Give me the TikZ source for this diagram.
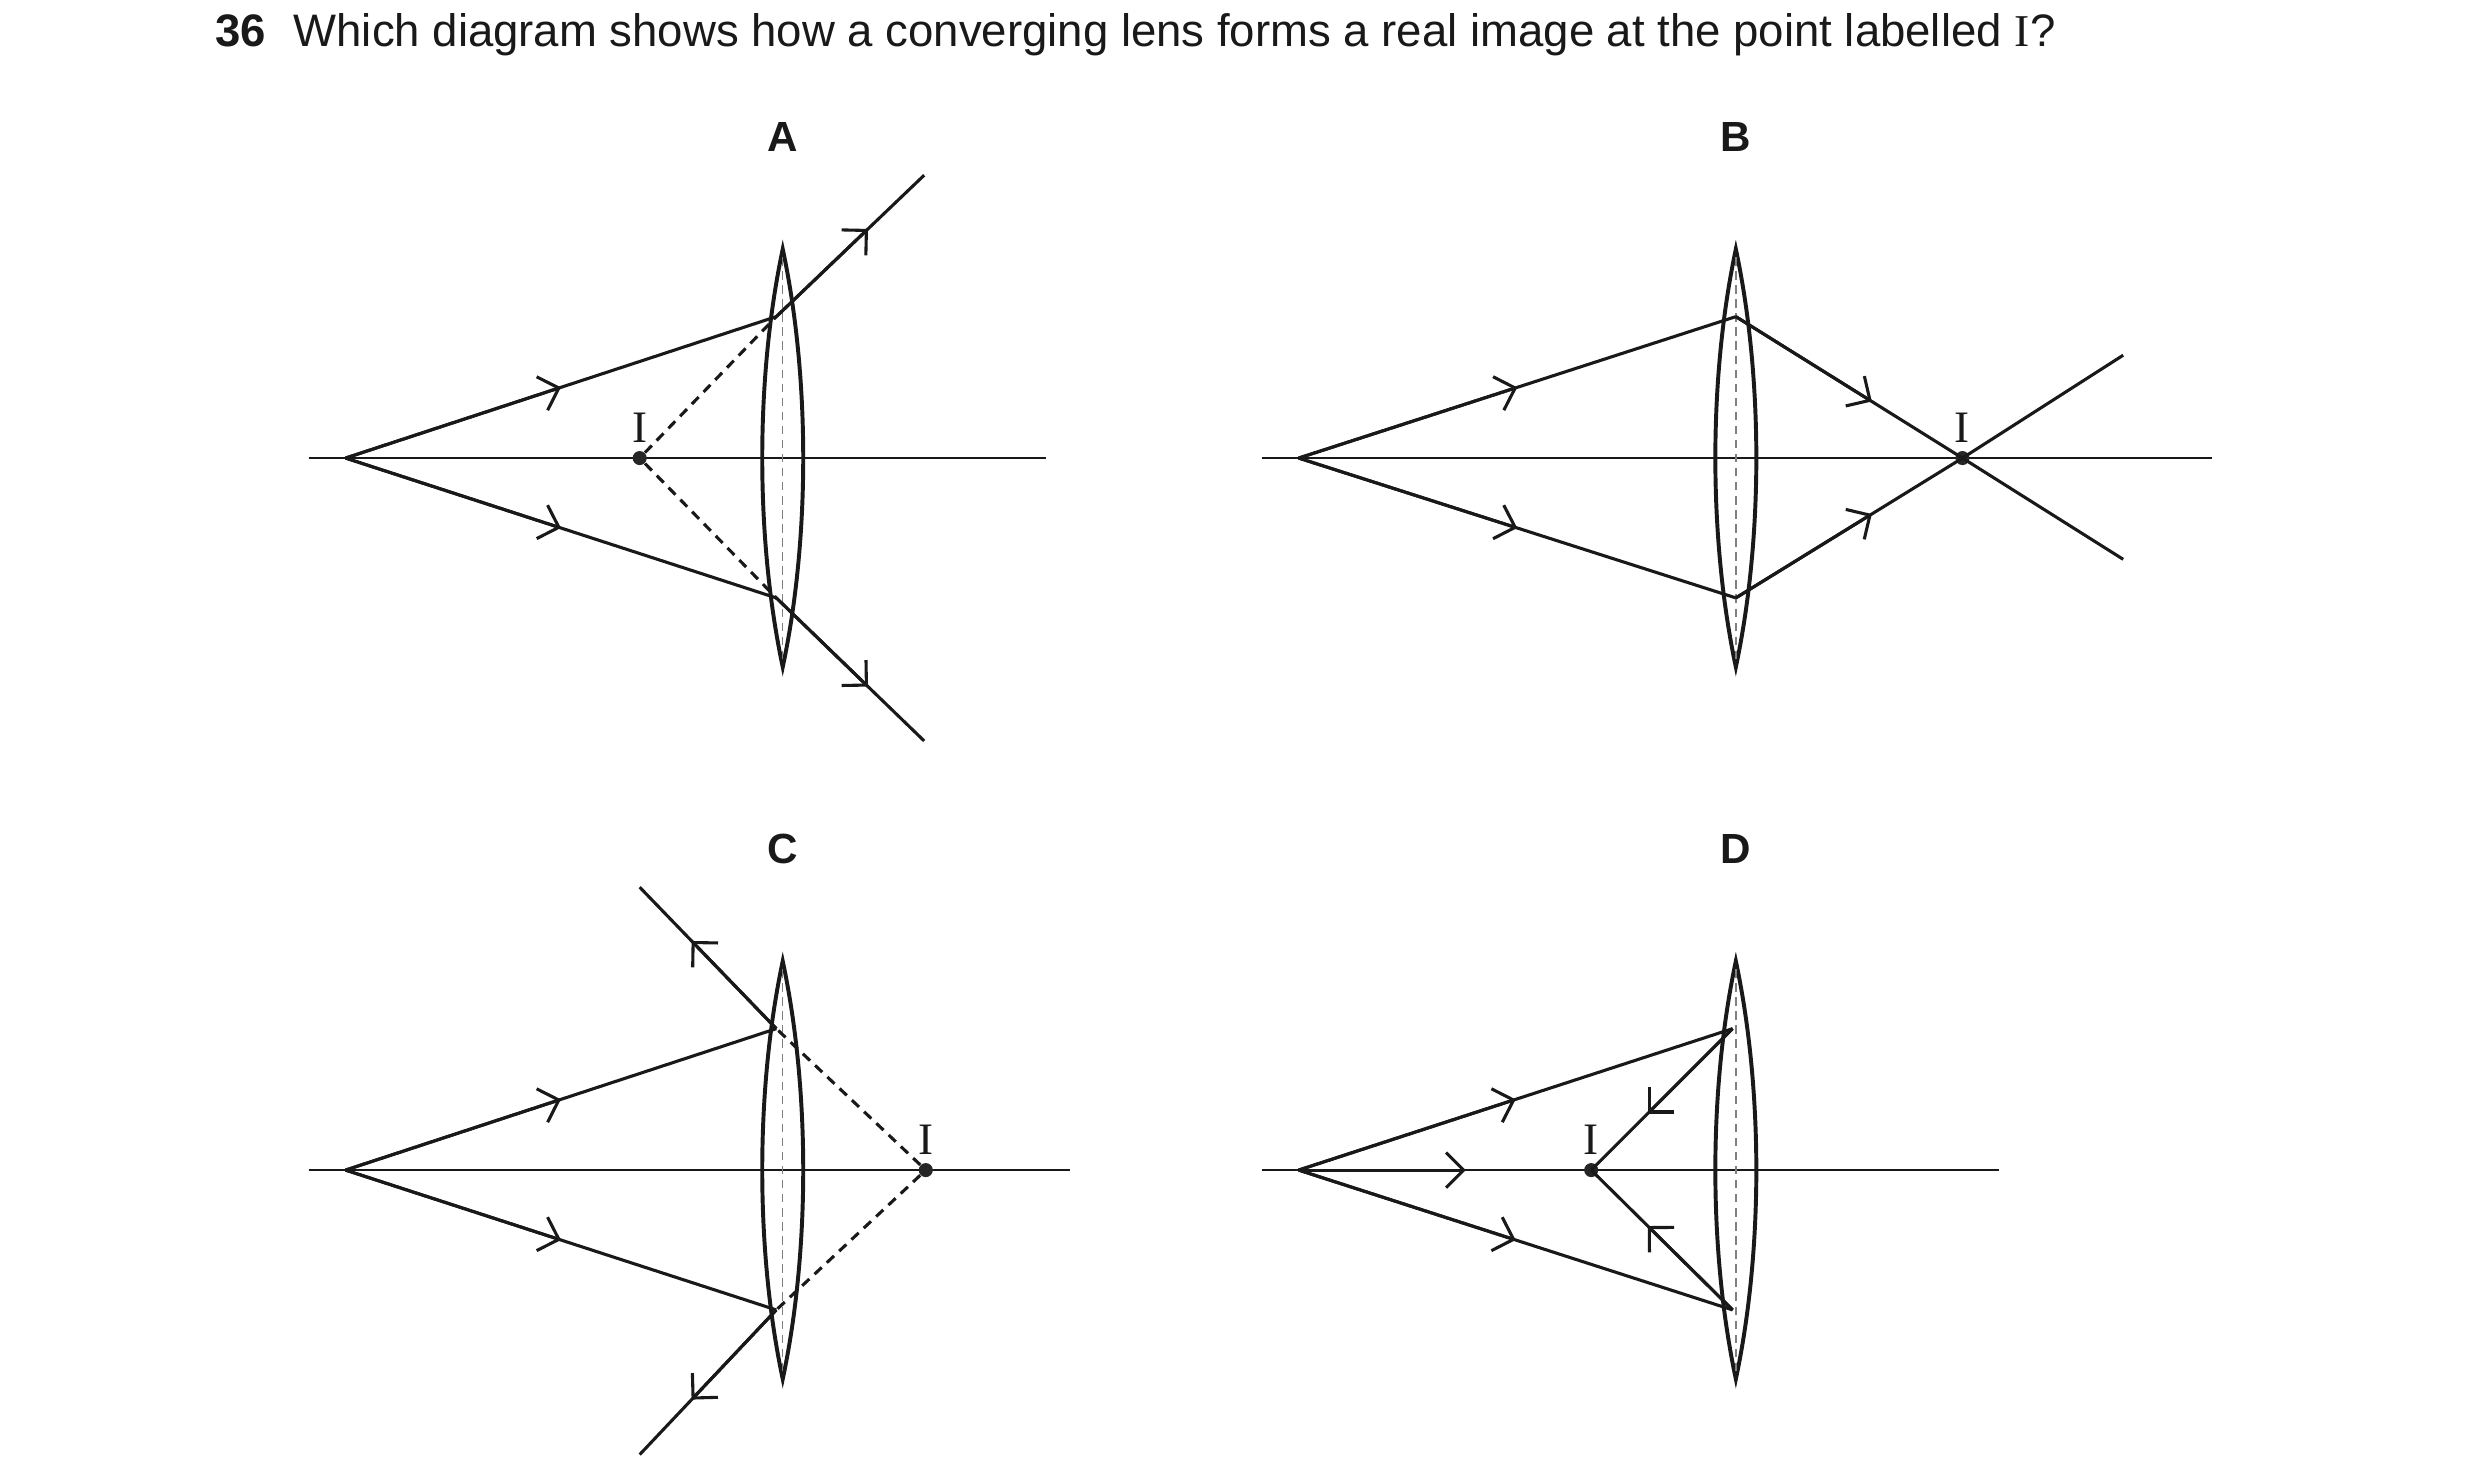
\documentclass[tikz,border=0pt]{standalone}
\usepackage{fontspec}
\setmainfont{Liberation Sans}
\newfontfamily\seriffont{Liberation Serif}
\usetikzlibrary{arrows.meta,calc}
\tikzset{
  ray/.style={line width=1.1pt, line join=round},
  axis/.style={line width=0.7pt},
  virt/.style={line width=1.1pt, dash pattern=on 3.5pt off 2.5pt},
  tip/.style={line width=1.1pt, -{Straight Barb[length=2.2mm,width=4.4mm]}},
  lbl/.style={font=\bfseries\fontsize{15}{17}\selectfont},
  imlbl/.style={font=\seriffont\fontsize{16}{18}\selectfont, above=2pt},
  dot/.style={circle, fill=black!85, inner sep=0pt, minimum size=5pt},
}
% lens centred at (#1,#2), half height 130
\newcommand\lenspath[2]{%
  \draw[line width=1.4pt] (#1,#2-130) .. controls (#1-17,#2-50) and (#1-17,#2+50) .. (#1,#2+130)
    .. controls (#1+17,#2+50) and (#1+17,#2-50) .. cycle;
  \draw[gray, line width=0.5pt, dash pattern=on 3pt off 2pt] (#1,#2-125) -- (#1,#2+125);}
% ray from #1 to #2 with an arrow head at fraction #3
\newcommand\arrowray[3]{%
  \draw[ray] (#1) -- (#2);
  \draw[tip] (#1) -- ($(#1)!#3!(#2)$);}
\begin{document}
\begin{tikzpicture}[x=0.0201cm, y=-0.0201cm, black!90]
\useasboundingbox (0,0) rectangle (1543,916);
\node[anchor=base west, font=\fontsize{16.2}{19}\selectfont] (title) at (128,29)
  {\textbf{36}\hspace{0.6em}Which diagram shows how a converging lens forms a real image at the point labelled {\seriffont I}?};

% A
\node[lbl] (labA) at (487,85) {A};
\draw[axis] (192,285) -- (651,285);
\lenspath{487}{285}
\coordinate (oA) at (215,285);
\coordinate (tA) at (483,197);
\coordinate (bA) at (483,372);
\coordinate (etA) at (575,109);
\coordinate (ebA) at (575,461);
\node[dot] (iA) at (398,285) {};
\node[imlbl] at (iA) {I};
\arrowray{oA}{tA}{0.5}
\arrowray{oA}{bA}{0.5}
\arrowray{tA}{etA}{0.62}
\arrowray{bA}{ebA}{0.62}
\draw[virt] (iA) -- (tA);
\draw[virt] (iA) -- (bA);

% B
\node[lbl] (labB) at (1080,85) {B};
\draw[axis] (785,285) -- (1376,285);
\lenspath{1080}{285}
\coordinate (oB) at (808,285);
\coordinate (tB) at (1080,197);
\coordinate (bB) at (1080,372);
\coordinate (etB) at (1321,221);
\coordinate (ebB) at (1321,348);
\node[dot] (iB) at (1221,285) {};
\node[imlbl] at (iB) {I};
\arrowray{oB}{tB}{0.5}
\arrowray{oB}{bB}{0.5}
\arrowray{tB}{iB.center}{0.6}
\arrowray{bB}{iB.center}{0.6}
\draw[ray] (iB.center) -- (ebB);
\draw[ray] (iB.center) -- (etB);

% C
\node[lbl] (labC) at (487,528) {C};
\draw[axis] (192,728) -- (666,728);
\lenspath{487}{728}
\coordinate (oC) at (215,728);
\coordinate (tC) at (483,640);
\coordinate (bC) at (483,815);
\coordinate (etC) at (398,552);
\coordinate (ebC) at (398,905);
\node[dot] (iC) at (576,728) {};
\node[imlbl] at (iC) {I};
\arrowray{oC}{tC}{0.5}
\arrowray{oC}{bC}{0.5}
\arrowray{tC}{etC}{0.62}
\arrowray{bC}{ebC}{0.62}
\draw[virt] (iC) -- (tC);
\draw[virt] (iC) -- (bC);

% D
\node[lbl] (labD) at (1080,528) {D};
\draw[axis] (785,728) -- (1244,728);
\lenspath{1080}{728}
\coordinate (oD) at (808,728);
\coordinate (tD) at (1078,640);
\coordinate (bD) at (1078,815);
\node[dot] (iD) at (990,728) {};
\node[imlbl] at (iD) {I};
\arrowray{oD}{tD}{0.5}
\arrowray{oD}{bD}{0.5}
\draw[tip] (oD) -- (912,728);
\arrowray{tD}{iD.center}{0.6}
\arrowray{bD}{iD.center}{0.6}
\end{tikzpicture}
\end{document}
